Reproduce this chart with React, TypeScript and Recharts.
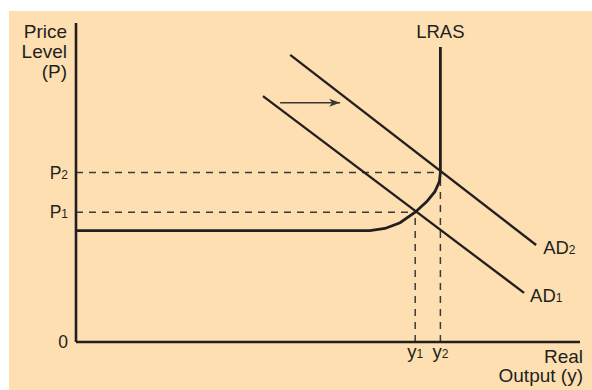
import { ComposedChart, Line, XAxis, YAxis, ReferenceLine, Label } from "recharts";

// Colours
const INK = "#231F20";
const DASH = "#3d3939";
const PAPER = "#FDDFB1";
const FONT = "'Liberation Sans', Arial, Helvetica, sans-serif";

// Equilibrium levels (chart units, axes run 0..100)
const P1 = 40.7;
const P2 = 53.1;
const Y1 = 67.3;
const Y2 = 72.3;

const priceTicks = [0, P1, P2];
const priceTickLabels = ["0", "P1", "P2"];
const outputTicks = [Y1, Y2];
const outputTickLabels = ["y1", "y2"];

// Aggregate supply: flat short-run part bending up into the vertical LRAS
const asX = [0, 58.3, 61.3, 64.3, 67.3, 69.6, 71.2, 72.1, 72.3, 72.3];
const asY = [34.9, 34.9, 35.6, 37.4, 40.7, 44.0, 47.1, 50.3, 53.1, 92.5];

// Aggregate demand before / after the shift
const ad1X = [37.1, 88.9];
const ad1Y = [77.1, 15.4];
const ad2X = [42.5, 91.3];
const ad2Y = [90.0, 30.4];

// Shift arrow
const shiftX = [40.5, 52.4];
const shiftY = [75, 75];

const zip = (xs: number[], ys: number[]) => xs.map((x, i) => ({ x, y: ys[i] }));

const asData = zip(asX, asY);
const ad1Data = zip(ad1X, ad1Y);
const ad2Data = zip(ad2X, ad2Y);
const shiftData = zip(shiftX, shiftY);

// "P1" -> P with a small trailing digit
function Sub({ label, size }: { label: string; size: number }) {
  const m = label.match(/^(.*?)(\d)$/);
  if (!m || label === "0") return <>{label}</>;
  return (
    <>
      <tspan>{m[1]}</tspan>
      <tspan fontSize={size}>{m[2]}</tspan>
    </>
  );
}

const PriceTick = (props: any) => {
  const { x, y, payload } = props;
  const label = priceTickLabels[priceTicks.indexOf(payload.value)] ?? "";
  return (
    <text x={x} y={y} dy={6} textAnchor="end" fill={INK} fontSize={17.5} fontFamily={FONT}>
      <Sub label={label} size={12} />
    </text>
  );
};

const OutputTick = (props: any) => {
  const { x, y, payload } = props;
  const label = outputTickLabels[outputTicks.indexOf(payload.value)] ?? "";
  return (
    <text x={x} y={y} dy={16} textAnchor="middle" fill={INK} fontSize={18.5} fontFamily={FONT}>
      <Sub label={label} size={12} />
    </text>
  );
};

const endLabel = (text: string, lastIndex: number, dx: number, dy: number, anchor: string) =>
  (props: any) => {
    const { cx, cy, index } = props;
    if (index !== lastIndex) return <g key={`n${index}`} />;
    return (
      <text
        key={`l${index}`}
        x={cx + dx}
        y={cy + dy}
        textAnchor={anchor}
        fill={INK}
        fontSize={18.5}
        fontFamily={FONT}
      >
        <Sub label={text} size={12} />
      </text>
    );
  };

const arrowHead = (props: any) => {
  const { cx, cy, index } = props;
  if (index !== 1) return <g key={`a${index}`} />;
  return (
    <polygon
      key="head"
      points={`${cx},${cy} ${cx - 11},${cy - 4} ${cx - 8},${cy} ${cx - 11},${cy + 4}`}
      fill="#3a3636"
    />
  );
};

const YTitle = (props: any) => {
  const vb = props.viewBox || { x: 6, y: 23, width: 70 };
  const x = vb.x + vb.width - 9;
  return (
    <text textAnchor="end" fill={INK} fontSize={19} fontFamily={FONT}>
      <tspan x={x} y={vb.y + 15}>Price</tspan>
      <tspan x={x} y={vb.y + 35}>Level</tspan>
      <tspan x={x} y={vb.y + 55}>(P)</tspan>
    </text>
  );
};

const XTitle = (props: any) => {
  const vb = props.viewBox || { x: 76, y: 342, width: 504 };
  const x = vb.x + vb.width + 3;
  return (
    <text textAnchor="end" fill={INK} fontSize={19} fontFamily={FONT}>
      <tspan x={x} y={vb.y + 21}>Real</tspan>
      <tspan x={x} y={vb.y + 40}>Output (y)</tspan>
    </text>
  );
};

export default function App() {
  return (
    <div style={{ position: "absolute", left: 0, top: 0, width: 592, height: 390, background: "#fff" }}>
      <div style={{ position: "absolute", left: 9, top: 11, right: 0, bottom: 0, background: PAPER }} />
      <div style={{ position: "absolute", left: 0, top: 0 }}>
        <ComposedChart width={592} height={390} margin={{ top: 23, right: 12, bottom: 8, left: 6 }}>
          <XAxis
            type="number"
            dataKey="x"
            domain={[0, 100]}
            allowDataOverflow
            ticks={outputTicks}
            interval={0}
            tick={<OutputTick />}
            tickLine={false}
            tickSize={0}
            tickMargin={0}
            height={40}
            axisLine={{ stroke: INK, strokeWidth: 2.6 }}
          >
            <Label content={<XTitle />} />
          </XAxis>
          <YAxis
            type="number"
            dataKey="y"
            domain={[0, 100]}
            allowDataOverflow
            ticks={priceTicks}
            interval={0}
            tick={<PriceTick />}
            tickLine={false}
            tickSize={0}
            tickMargin={8}
            width={70}
            axisLine={{ stroke: INK, strokeWidth: 2.6 }}
          >
            <Label content={<YTitle />} />
          </YAxis>

          <ReferenceLine segment={[{ x: 0, y: P1 }, { x: Y1, y: P1 }]} stroke={DASH} strokeWidth={1.5} strokeDasharray="7 6" />
          <ReferenceLine segment={[{ x: Y1, y: 0 }, { x: Y1, y: P1 }]} stroke={DASH} strokeWidth={1.5} strokeDasharray="7 6" />
          <ReferenceLine segment={[{ x: 0, y: P2 }, { x: Y2, y: P2 }]} stroke={DASH} strokeWidth={1.5} strokeDasharray="7 6" />
          <ReferenceLine segment={[{ x: Y2, y: 0 }, { x: Y2, y: P2 }]} stroke={DASH} strokeWidth={1.5} strokeDasharray="7 6" />

          <Line
            data={asData}
            dataKey="y"
            type="linear"
            stroke={INK}
            strokeWidth={2.8}
            dot={endLabel("LRAS", asData.length - 1, 0, -9, "middle")}
            activeDot={false}
            isAnimationActive={false}
          />
          <Line
            data={ad1Data}
            dataKey="y"
            type="linear"
            stroke={INK}
            strokeWidth={2.3}
            dot={endLabel("AD1", 1, 6, 9, "start")}
            activeDot={false}
            isAnimationActive={false}
          />
          <Line
            data={ad2Data}
            dataKey="y"
            type="linear"
            stroke={INK}
            strokeWidth={2.3}
            dot={endLabel("AD2", 1, 7, 9, "start")}
            activeDot={false}
            isAnimationActive={false}
          />
          <Line
            data={shiftData}
            dataKey="y"
            type="linear"
            stroke="#3a3636"
            strokeWidth={1.6}
            dot={arrowHead}
            activeDot={false}
            isAnimationActive={false}
          />
        </ComposedChart>
      </div>
    </div>
  );
}
